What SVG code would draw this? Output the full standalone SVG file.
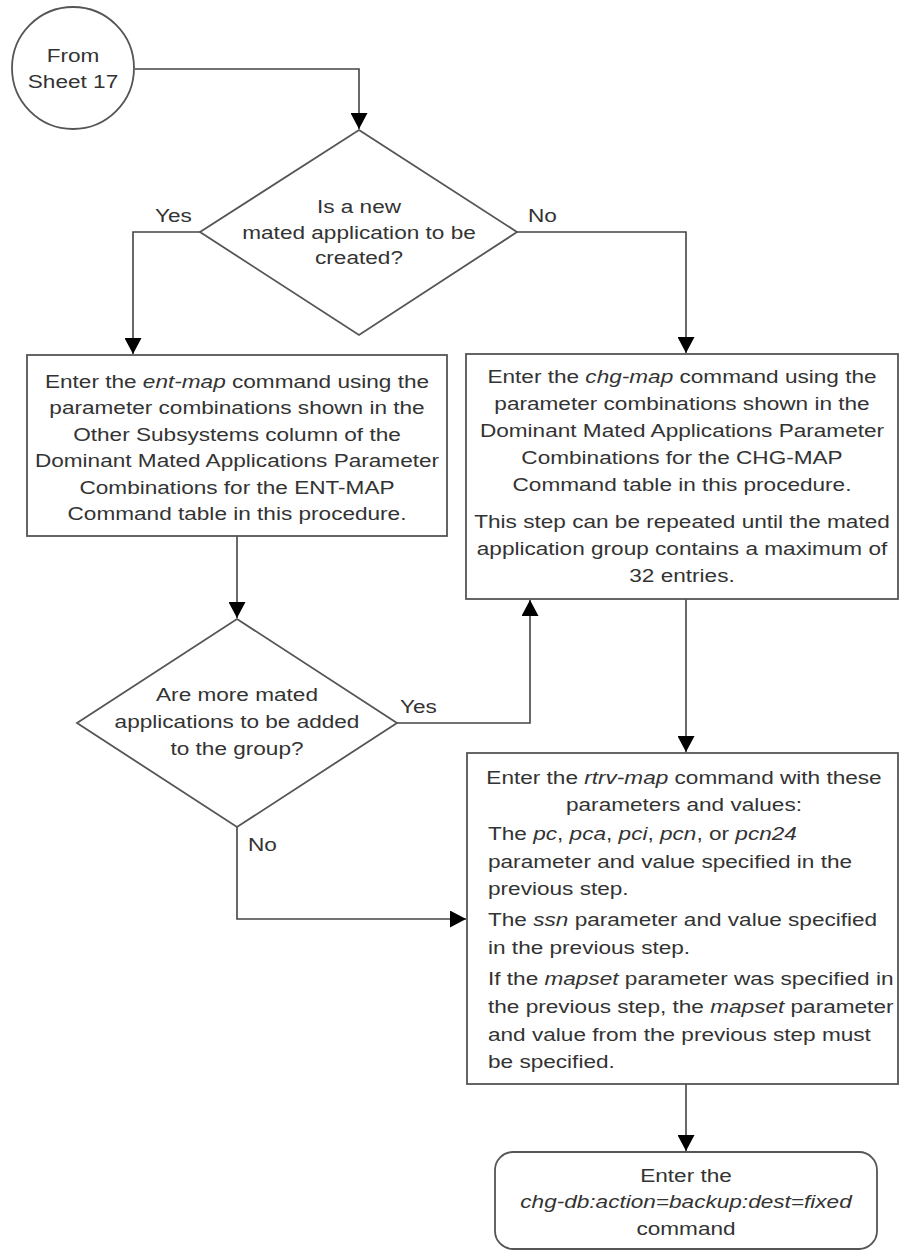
<svg xmlns="http://www.w3.org/2000/svg" width="900" height="1251" viewBox="0 0 900 1251">
<defs>
<style>
.shape{fill:#fff;stroke:#555;stroke-width:1.8}
.conn{fill:none;stroke:#444;stroke-width:1.6}
text{font-family:"Liberation Sans",Arial,sans-serif;font-size:18.3px;fill:#333}
.c{text-anchor:middle}
.i{font-style:italic}
</style>
<marker id="ah" markerUnits="userSpaceOnUse" markerWidth="17" markerHeight="17" refX="16" refY="8.5" orient="auto">
<path d="M0,0 L16,8.5 L0,17 z" fill="#000"/>
</marker>
</defs>
<rect width="900" height="1251" fill="#fff"/>

<g id="connectors">
<path class="conn" d="M135,69 H359 V129" marker-end="url(#ah)"/>
<path class="conn" d="M200,232 H133 V354" marker-end="url(#ah)"/>
<path class="conn" d="M517,232 H686 V353" marker-end="url(#ah)"/>
<path class="conn" d="M237,536 V618" marker-end="url(#ah)"/>
<path class="conn" d="M397,723 H530 V600" marker-end="url(#ah)"/>
<path class="conn" d="M237,827 V919 H466" marker-end="url(#ah)"/>
<path class="conn" d="M686,599 V752" marker-end="url(#ah)"/>
<path class="conn" d="M686,1084 V1151" marker-end="url(#ah)"/>
<g transform="translate(155 0) scale(1.235 1)"><text x="0" y="222">Yes</text></g>
<g transform="translate(528 0) scale(1.235 1)"><text x="0" y="222">No</text></g>
<g transform="translate(400 0) scale(1.235 1)"><text x="0" y="713">Yes</text></g>
<g transform="translate(248 0) scale(1.235 1)"><text x="0" y="851">No</text></g>
</g>

<g id="start">
<circle class="shape" cx="73" cy="68" r="61"/>
<g transform="translate(73 0) scale(1.235 1)">
<text class="c" x="0" y="62">From</text>
<text class="c" x="0" y="88">Sheet 17</text>
</g>
</g>

<g id="decision1">
<polygon class="shape" points="359,130 517,232 359,335 200,232"/>
<g transform="translate(359 0) scale(1.235 1)">
<text class="c" x="0" y="213">Is a new</text>
<text class="c" x="0" y="239">mated application to be</text>
<text class="c" x="0" y="264">created?</text>
</g>
</g>

<g id="entmap">
<rect class="shape" x="27" y="355" width="420" height="181"/>
<g transform="translate(237 0) scale(1.235 1)">
<text class="c" x="0" y="388">Enter the <tspan class="i">ent-map</tspan> command using the</text>
<text class="c" x="0" y="414.5">parameter combinations shown in the</text>
<text class="c" x="0" y="441">Other Subsystems column of the</text>
<text class="c" x="0" y="467.5">Dominant Mated Applications Parameter</text>
<text class="c" x="0" y="494">Combinations for the ENT-MAP</text>
<text class="c" x="0" y="520.5">Command table in this procedure.</text>
</g>
</g>

<g id="chgmap">
<rect class="shape" x="466" y="354" width="432" height="245"/>
<g transform="translate(682 0) scale(1.235 1)">
<text class="c" x="0" y="383">Enter the <tspan class="i">chg-map</tspan> command using the</text>
<text class="c" x="0" y="410.5">parameter combinations shown in the</text>
<text class="c" x="0" y="437.5">Dominant Mated Applications Parameter</text>
<text class="c" x="0" y="464.5">Combinations for the CHG-MAP</text>
<text class="c" x="0" y="491.5">Command table in this procedure.</text>
<text class="c" x="0" y="528">This step can be repeated until the mated</text>
<text class="c" x="0" y="555.5">application group contains a maximum of</text>
<text class="c" x="0" y="582.5">32 entries.</text>
</g>
</g>

<g id="decision2">
<polygon class="shape" points="237,619 397,723 237,827 77,723"/>
<g transform="translate(237 0) scale(1.235 1)">
<text class="c" x="0" y="701">Are more mated</text>
<text class="c" x="0" y="728.5">applications to be added</text>
<text class="c" x="0" y="755.5">to the group?</text>
</g>
</g>

<g id="rtrvmap">
<rect class="shape" x="467" y="753" width="431" height="331"/>
<g transform="translate(684 0) scale(1.235 1)">
<text class="c" x="0" y="784">Enter the <tspan class="i">rtrv-map</tspan> command with these</text>
<text class="c" x="0" y="811.5">parameters and values:</text>
</g>
<g transform="translate(488 0) scale(1.235 1)">
<text x="0" y="840.5">The <tspan class="i">pc</tspan>, <tspan class="i">pca</tspan>, <tspan class="i">pci</tspan>, <tspan class="i">pcn</tspan>, or <tspan class="i">pcn24</tspan></text>
<text x="0" y="868">parameter and value specified in the</text>
<text x="0" y="895.5">previous step.</text>
<text x="0" y="926.5">The <tspan class="i">ssn</tspan> parameter and value specified</text>
<text x="0" y="954">in the previous step.</text>
<text x="0" y="985">If the <tspan class="i">mapset</tspan> parameter was specified in</text>
<text x="0" y="1013">the previous step, the <tspan class="i">mapset</tspan> parameter</text>
<text x="0" y="1041">and value from the previous step must</text>
<text x="0" y="1068">be specified.</text>
</g>
</g>

<g id="backup">
<rect class="shape" x="495" y="1152" width="382" height="97" rx="18" ry="18"/>
<g transform="translate(686 0) scale(1.235 1)">
<text class="c" x="0" y="1182">Enter the</text>
<text class="c i" x="0" y="1208">chg-db:action=backup:dest=fixed</text>
<text class="c" x="0" y="1235">command</text>
</g>
</g>
</svg>
